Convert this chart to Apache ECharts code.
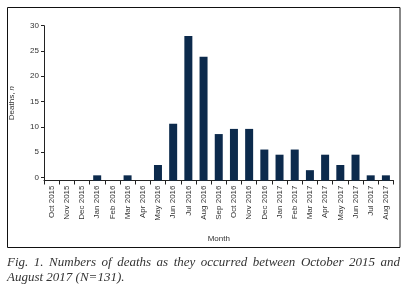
<!DOCTYPE html>
<html>
<head>
<meta charset="utf-8">
<script src="https://cdn.jsdelivr.net/npm/echarts@6/dist/echarts.min.js"></script>
<style>html,body{margin:0;padding:0;background:#fff;}#c{width:407px;height:291px;}</style>
</head>
<body>
<div id="c"></div>
<script>
const months = ['Oct 2015','Nov 2015','Dec 2015','Jan 2016','Feb 2016','Mar 2016','Apr 2016','May 2016','Jun 2016','Jul 2016','Aug 2016','Sep 2016','Oct 2016','Nov 2016','Dec 2016','Jan 2017','Feb 2017','Mar 2017','Apr 2017','May 2017','Jun 2017','Jul 2017','Aug 2017'];
const deaths = [0,0,0,1,0,1,0,3,11,28,24,9,10,10,6,5,6,2,5,3,5,1,1];
const yTicks = [0,5,10,15,20,25,30];
const captionLine1 = 'Fig. 1. Numbers of deaths as they occurred between October 2015 and';
const captionLine2 = 'August 2017 (N=131).';

const capFont = 'italic 13px "Liberation Serif"';
const capColor = '#333';
const ctx = document.createElement('canvas').getContext('2d');
ctx.font = capFont;
const words = captionLine1.split(' ');
const widths = words.map(w => ctx.measureText(w).width);
const left = 7, right = 400;
const gap = (right - left - widths.reduce((a,b)=>a+b,0)) / (words.length - 1);
const captionEls = [];
let x = left;
words.forEach((w,i) => {
  captionEls.push({type:'text', left:null, x: x, y: 263, style:{text:w, font:capFont, fill:capColor, textVerticalAlign:'middle', textAlign:'left'}});
  x += widths[i] + gap;
});
captionEls.push({type:'text', x: left, y: 278, style:{text:captionLine2, font:capFont, fill:capColor, textVerticalAlign:'middle', textAlign:'left'}});

const chart = echarts.init(document.getElementById('c'), null, {renderer:'canvas'});
const lbl = {color:'#333', fontFamily:'Liberation Sans', fontSize:8};
chart.setOption({
  animation:false,
  grid:{left:43.5, right:13.5, top:25.7, bottom:110.5, containLabel:false},
  xAxis:{
    type:'category', data:months, boundaryGap:true,
    name:'Month', nameLocation:'middle', nameGap:54,
    nameTextStyle:{color:'#333', fontFamily:'Liberation Sans', fontSize:8},
    axisLine:{onZero:false, lineStyle:{color:'#222', width:1}},
    axisTick:{show:true, length:4, alignWithLabel:false, lineStyle:{color:'#222'}},
    axisLabel:Object.assign({rotate:90, margin:5, interval:0}, lbl),
    splitLine:{show:false}
  },
  yAxis:[{
    type:'value', min:-0.6, max:30,
    name:'Deaths, {i|n}', nameLocation:'middle', nameGap:28, nameRotate:90,
    nameTextStyle:{color:'#333', fontFamily:'Liberation Sans', fontSize:8, rich:{i:{fontStyle:'italic', fontFamily:'Liberation Sans', fontSize:8, color:'#333'}}},
    axisLine:{show:true, lineStyle:{color:'#222', width:1}},
    axisTick:{show:true, length:3, customValues:yTicks, lineStyle:{color:'#222'}},
    axisLabel:Object.assign({margin:5, customValues:yTicks}, lbl),
    splitLine:{show:false}
  },{
    type:'value', min:0, max:30, show:false, splitLine:{show:false}
  }],
  series:[{
    type:'bar', data:deaths, yAxisIndex:1, barWidth:8,
    itemStyle:{color:'#0c2a4c'}
  }],
  graphic:[
    {type:'rect', shape:{x:7.5, y:7.5, width:392.5, height:240}, style:{fill:'none', stroke:'#111', lineWidth:1}, silent:true}
  ].concat(captionEls)
});
</script>
</body>
</html>
